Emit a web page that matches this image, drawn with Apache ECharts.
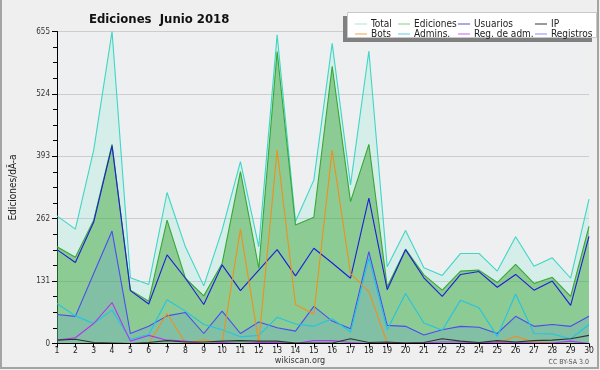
<!DOCTYPE html>
<html>
<head>
<meta charset="utf-8">
<script src="https://cdn.jsdelivr.net/npm/echarts@6/dist/echarts.min.js"></script>
<style>
html,body{margin:0;padding:0;background:#efefef;}
#c{width:600px;height:370px;}
</style>
</head>
<body>
<div id="c"></div>
<script>
var days = ['1','2','3','4','5','6','7','8','9','10','11','12','13','14','15','16','17','18','19','20','21','22','23','24','25','26','27','28','29','30'];
var yTicks = [0, 131, 262, 393, 524, 655];
var total     = [268,240,406,655,138,124,317,203,121,238,382,203,648,256,343,630,333,614,161,237,159,143,189,189,152,224,162,180,137,303];
var ediciones = [203,181,259,418,112,89,259,137,100,168,361,158,613,249,265,582,298,418,119,198,144,112,152,154,128,166,126,139,99,246];
var usuarios  = [197,170,255,415,111,83,186,137,82,165,111,154,197,142,200,169,137,305,113,197,138,99,145,151,118,145,112,131,80,225];
var ip        = [7,9,2,1,0,2,6,3,3,5,6,5,5,1,1,1,10,2,3,1,2,10,5,2,6,3,6,7,10,17];
var bots      = [0,0,0,0,0,0,63,1,8,1,240,3,406,82,62,406,147,109,1,0,0,0,0,0,0,15,3,1,0,0];
var admins    = [84,58,42,70,9,19,92,68,40,29,14,17,55,41,36,52,24,179,29,105,43,28,91,75,15,104,21,20,10,40];
var regAdm    = [7,12,42,86,5,17,7,5,0,2,0,2,2,0,6,6,2,0,2,1,1,3,3,1,3,2,1,1,5,0];
var registros = [61,57,147,236,21,36,58,65,21,68,21,45,33,26,78,47,31,193,38,36,18,29,36,34,21,57,36,40,36,57];

var FONT = "'DejaVu Sans Condensed', 'DejaVu Sans', sans-serif";
var C = {
  total: '#3ed6c6', ed: '#36a836', us: '#1e1ed8', ip: '#333333',
  bots: '#f0901c', adm: '#22c4e4', regAdm: '#b435ee', reg: '#4c4cf0'
};
var L = {
  total: '#a6e6de', ed: '#86cc86', us: '#5050dc', ip: '#333333',
  bots: '#f2a448', adm: '#5ccfe6', regAdm: '#c464f0', reg: '#8a8af6'
};

function line(name, data, color, area) {
  var s = {
    name: name, type: 'line', data: data, symbol: 'none', silent: true,
    lineStyle: { color: color, width: 1.1 }, itemStyle: { color: color },
    emphasis: { disabled: true }, animation: false
  };
  if (area) s.areaStyle = { color: area, opacity: 1 };
  return s;
}
function legendCol(left, names, colors) {
  return {
    orient: 'vertical', left: left, top: 14, itemGap: 0, itemWidth: 12, itemHeight: 1,
    icon: 'rect', selectedMode: false,
    textStyle: { fontFamily: FONT, fontSize: 10, lineHeight: 10, color: '#222', padding: [0,0,0,-1] },
    data: names.map(function (n, i) { return { name: n, itemStyle: { color: colors[i] } }; })
  };
}

var chart = echarts.init(document.getElementById('c'), null, { renderer: 'canvas' });
chart.setOption({
  backgroundColor: '#efefef',
  animation: false,
  title: {
    text: 'Ediciones  Junio 2018', left: 84, top: 8,
    textStyle: { fontFamily: FONT, fontSize: 13, fontWeight: 'bold', color: '#111' }
  },
  graphic: [
    { type: 'rect', z: 0, shape: { x: 1, y: -5, width: 597, height: 373 }, style: { fill: 'none', stroke: '#a4a4a4', lineWidth: 2 } },
    { type: 'rect', z: 50, shape: { x: 343, y: 16, width: 249, height: 26 }, style: { fill: '#808080' } },
    { type: 'rect', z: 51, shape: { x: 347.5, y: 12.5, width: 249, height: 25 }, style: { fill: '#ffffff', stroke: '#c8c8c8', lineWidth: 1 } },
    { type: 'text', z: 60, left: 'center', top: 356, style: { text: 'wikiscan.org', fontFamily: FONT, fontSize: 9, fill: '#333' } },
    { type: 'text', z: 60, right: 11, top: 359, style: { text: 'CC BY-SA 3.0', fontFamily: FONT, fontSize: 7, fill: '#555' } }
  ],
  legend: [
    legendCol(350, ['Total', 'Bots'], [L.total, L.bots]),
    legendCol(393, ['Ediciones', 'Admins.'], [L.ed, L.adm]),
    legendCol(453, ['Usuarios', 'Reg. de adm.'], [L.us, L.regAdm]),
    legendCol(530, ['IP', 'Registros'], [L.ip, L.reg])
  ].map(function (l) { l.z = 70; return l; }),
  grid: { left: 47, right: 11, top: 31.5, bottom: 26.5, show: true, backgroundColor: '#eeeff0', borderWidth: 0 },
  xAxis: {
    type: 'category', data: days, boundaryGap: false, z: 10,
    axisLine: { lineStyle: { color: '#000', width: 1 } },
    axisTick: { show: true, length: 4, alignWithLabel: true, lineStyle: { color: '#000' } },
    axisLabel: { interval: 0, fontFamily: FONT, fontSize: 8.5, color: '#222', margin: 3 },
    splitLine: { show: false }
  },
  yAxis: {
    type: 'value', min: yTicks[0], max: yTicks[yTicks.length - 1], interval: yTicks[1] - yTicks[0],
    name: 'Ediciones/dÃ-a', nameLocation: 'middle', nameGap: 39, nameRotate: 90,
    nameTextStyle: { fontFamily: FONT, fontSize: 10, color: '#222' },
    axisLine: { show: true, lineStyle: { color: '#000', width: 1 } },
    axisTick: { show: true, length: 5, lineStyle: { color: '#000' } },
    minorTick: { show: true, splitNumber: 4, length: 4, lineStyle: { color: '#000' } },
    axisLabel: { fontFamily: FONT, fontSize: 8, color: '#333', margin: 7 },
    splitLine: { show: true, lineStyle: { color: '#cdcdcd', width: 1 } }
  },
  series: [
    line('Total', total, C.total, 'rgba(95,235,200,0.16)'),
    line('Ediciones', ediciones, C.ed, 'rgba(50,160,45,0.45)'),
    line('Registros', registros, C.reg, 'rgba(87,151,229,0.2)'),
    line('Usuarios', usuarios, C.us),
    line('Admins.', admins, C.adm),
    line('Bots', bots, C.bots),
    line('Reg. de adm.', regAdm, C.regAdm),
    line('IP', ip, C.ip)
  ]
});
</script>
</body>
</html>
